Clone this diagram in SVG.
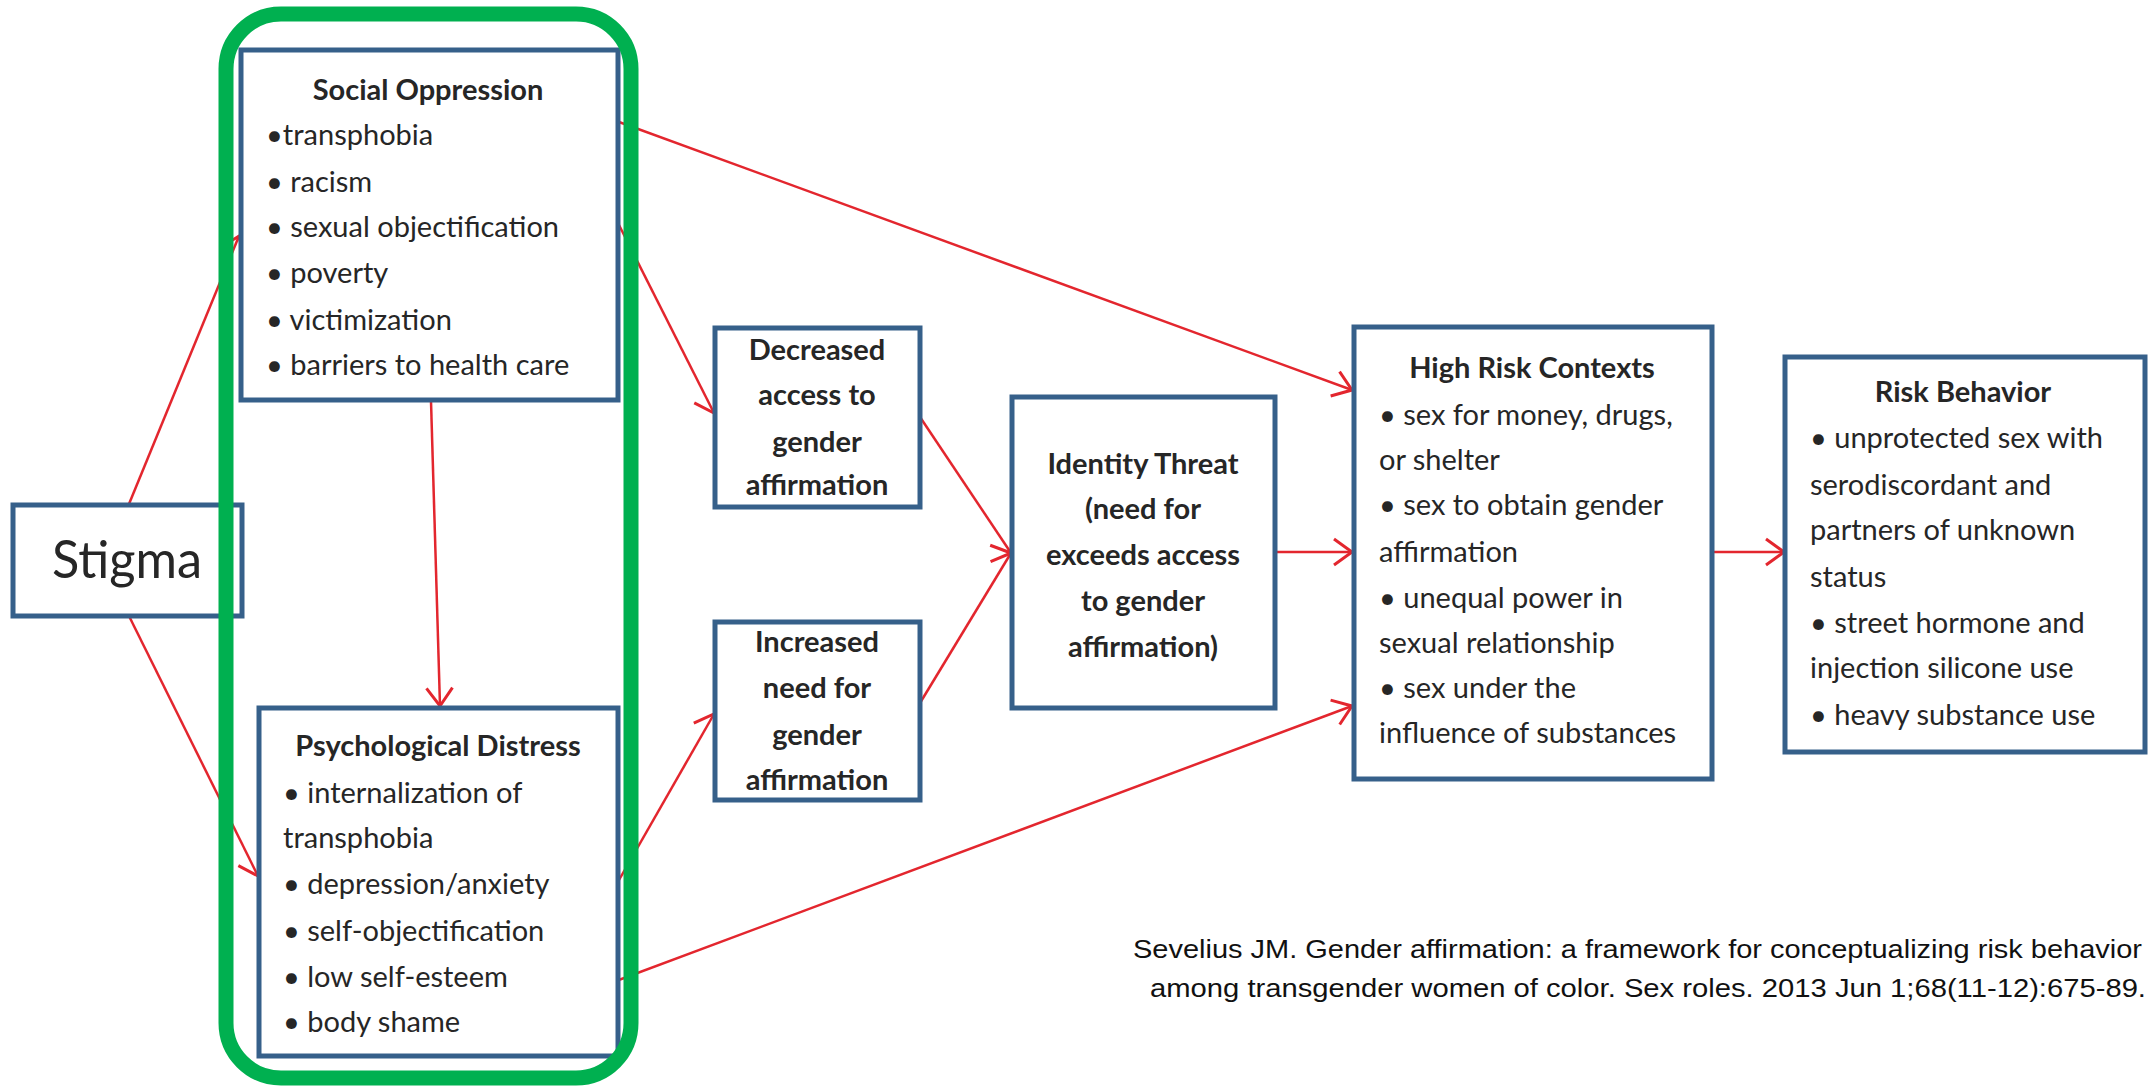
<svg xmlns="http://www.w3.org/2000/svg" width="2151" height="1086" viewBox="0 0 2151 1086">
<defs>
<marker id="arr" markerUnits="userSpaceOnUse" markerWidth="40" markerHeight="40" refX="20" refY="20" orient="auto" overflow="visible">
<path d="M2,7 L20,20 L2,33" fill="none" stroke="#e3262e" stroke-width="3"/>
</marker>
</defs>
<style>
.box{fill:#ffffff;stroke:#36608a;stroke-width:5}
.t{font-family:Lato,"Liberation Sans",sans-serif;font-size:29px;fill:#262626}
.b{font-weight:bold}
.c{text-anchor:middle}
.con{stroke:#e3262e;stroke-width:2.5;fill:none;marker-end:url(#arr)}
.cite{font-family:"Liberation Sans",sans-serif;font-size:25px;fill:#111}
</style>
<rect width="2151" height="1086" fill="#ffffff"/>

<g id="connectors">
<line class="con" x1="129" y1="504" x2="239" y2="236"/>
<line class="con" x1="129" y1="616" x2="258" y2="876"/>
<line class="con" x1="431" y1="401" x2="440" y2="706"/>
<line class="con" x1="619" y1="122" x2="1352" y2="390"/>
<line class="con" x1="619" y1="225" x2="714" y2="413"/>
<line class="con" x1="619" y1="880" x2="714" y2="714"/>
<line class="con" x1="600" y1="987" x2="1352" y2="706"/>
<line class="con" x1="920" y1="417" x2="1011" y2="553"/>
<line class="con" x1="920" y1="703" x2="1011" y2="553"/>
<line class="con" x1="1277" y1="552" x2="1352" y2="552"/>
<line class="con" x1="1714" y1="552" x2="1784" y2="552"/>
</g>

<g id="stigma">
<rect class="box" x="13" y="505" width="229" height="111"/>
<text class="t" x="52" y="578" style="font-size:52px" textLength="150" lengthAdjust="spacingAndGlyphs">Stigma</text>
</g>

<g id="social-oppression">
<rect class="box" x="241" y="50" width="377" height="350"/>
<text class="t b c" x="428" y="100">Social Oppression</text>
<text class="t" x="266" y="145">•transphobia</text>
<text class="t" x="266" y="192">• racism</text>
<text class="t" x="266" y="237">• sexual objectification</text>
<text class="t" x="266" y="283">• poverty</text>
<text class="t" x="266" y="330">• victimization</text>
<text class="t" x="266" y="375">• barriers to health care</text>
</g>

<g id="psychological-distress">
<rect class="box" x="259" y="708" width="359" height="348"/>
<text class="t b c" x="438" y="756">Psychological Distress</text>
<text class="t" x="283" y="803">• internalization of</text>
<text class="t" x="283" y="848">transphobia</text>
<text class="t" x="283" y="894">• depression/anxiety</text>
<text class="t" x="283" y="941">• self-objectification</text>
<text class="t" x="283" y="987">• low self-esteem</text>
<text class="t" x="283" y="1032">• body shame</text>
</g>

<g id="decreased-access">
<rect class="box" x="715" y="328" width="205" height="179"/>
<text class="t b c" x="817" y="360">Decreased</text>
<text class="t b c" x="817" y="405">access to</text>
<text class="t b c" x="817" y="452">gender</text>
<text class="t b c" x="817" y="495">affirmation</text>
</g>

<g id="increased-need">
<rect class="box" x="715" y="622" width="205" height="178"/>
<text class="t b c" x="817" y="652">Increased</text>
<text class="t b c" x="817" y="698">need for</text>
<text class="t b c" x="817" y="745">gender</text>
<text class="t b c" x="817" y="790">affirmation</text>
</g>

<g id="identity-threat">
<rect class="box" x="1012" y="397" width="263" height="311"/>
<text class="t b c" x="1143" y="474">Identity Threat</text>
<text class="t b c" x="1143" y="519">(need for</text>
<text class="t b c" x="1143" y="565">exceeds access</text>
<text class="t b c" x="1143" y="611">to gender</text>
<text class="t b c" x="1143" y="657">affirmation)</text>
</g>

<g id="high-risk-contexts">
<rect class="box" x="1354" y="327" width="358" height="452"/>
<text class="t b c" x="1532" y="378">High Risk Contexts</text>
<text class="t" x="1379" y="425">• sex for money, drugs,</text>
<text class="t" x="1379" y="470">or shelter</text>
<text class="t" x="1379" y="515">• sex to obtain gender</text>
<text class="t" x="1379" y="562">affirmation</text>
<text class="t" x="1379" y="608">• unequal power in</text>
<text class="t" x="1379" y="653">sexual relationship</text>
<text class="t" x="1379" y="698">• sex under the</text>
<text class="t" x="1379" y="743">influence of substances</text>
</g>

<g id="risk-behavior">
<rect class="box" x="1785" y="357" width="360" height="395"/>
<text class="t b c" x="1963" y="402">Risk Behavior</text>
<text class="t" x="1810" y="448">• unprotected sex with</text>
<text class="t" x="1810" y="495">serodiscordant and</text>
<text class="t" x="1810" y="540">partners of unknown</text>
<text class="t" x="1810" y="587">status</text>
<text class="t" x="1810" y="633">• street hormone and</text>
<text class="t" x="1810" y="678">injection silicone use</text>
<text class="t" x="1810" y="725">• heavy substance use</text>
</g>

<g id="green-highlight">
<rect x="226" y="14" width="405" height="1064" rx="55" ry="55" fill="none" stroke="#00b050" stroke-width="15"/>
</g>

<g id="citation">
<text class="cite" x="1133" y="958" textLength="1009" lengthAdjust="spacingAndGlyphs">Sevelius JM. Gender affirmation: a framework for conceptualizing risk behavior</text>
<text class="cite" x="1150" y="997" textLength="996" lengthAdjust="spacingAndGlyphs">among transgender women of color. Sex roles. 2013 Jun 1;68(11-12):675-89.</text>
</g>
</svg>
